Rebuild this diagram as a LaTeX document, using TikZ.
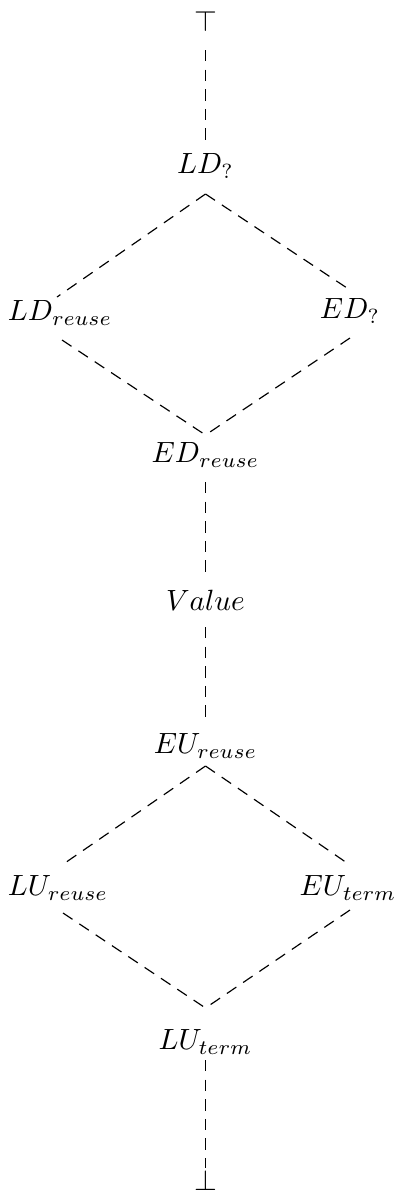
\documentclass[tikz,border=0pt]{standalone}
\usetikzlibrary{calc}
\begin{document}
\begin{tikzpicture}[x=0.3415pt,y=-0.3415pt,
  lab/.style={inner sep=0pt},
  dline/.style={line width=0.4pt, dash pattern=on 3.9pt off 2.8pt}]
\useasboundingbox (0,0) rectangle (399,1193);
% nodes
\node[lab] (top) at (205.5,21) {$\top$};
\node[lab] (ldq) at (205.5,166) {$LD_?$};
\node[lab] (ldr) at (60,313) {$LD_{reuse}$};
\node[lab] (edq) at (350,311) {$ED_?$};
\node[lab] (edr) at (205.5,455) {$ED_{reuse}$};
\node[lab] (val) at (205.5,600) {$Value$};
\node[lab] (eur) at (205.5,746) {$EU_{reuse}$};
\node[lab] (lur) at (58,888) {$LU_{reuse}$};
\node[lab] (eut) at (348,888) {$EU_{term}$};
\node[lab] (lut) at (205.5,1042) {$LU_{term}$};
\node[lab] (bot) at (205.5,1180) {$\bot$};
% diamond vertices
\coordinate (v1) at ($(ldq)+(0,28)$);
\coordinate (v2) at ($(edr)+(0,-20)$);
\coordinate (v3) at ($(eur)+(0,20)$);
\coordinate (v4) at ($(lut)+(0,-34)$);
% connectors
\draw[dline] ($(top)+(0,29)$) -- ($(ldq)+(0,-19)$);
\draw[dline] (v1) -- ($(ldr)+(-3,-16)$);
\draw[dline] (v1) -- ($(edq)+(0,-21)$);
\draw[dline] ($(ldr)+(2,27)$) -- (v2);
\draw[dline] ($(edq)+(0,27)$) -- (v2);
\draw[dline] ($(edr)+(0,27)$) -- ($(val)+(0,-22)$);
\draw[dline] ($(val)+(0,27)$) -- ($(eur)+(0,-24)$);
\draw[dline] (v3) -- ($(lur)+(4,-23)$);
\draw[dline] (v3) -- ($(eut)+(2,-23)$);
\draw[dline] ($(lur)+(5,25)$) -- (v4);
\draw[dline] ($(eut)+(2,22)$) -- (v4);
\draw[dline] ($(lut)+(0,18)$) -- ($(bot)+(0,-12)$);
\end{tikzpicture}
\end{document}
